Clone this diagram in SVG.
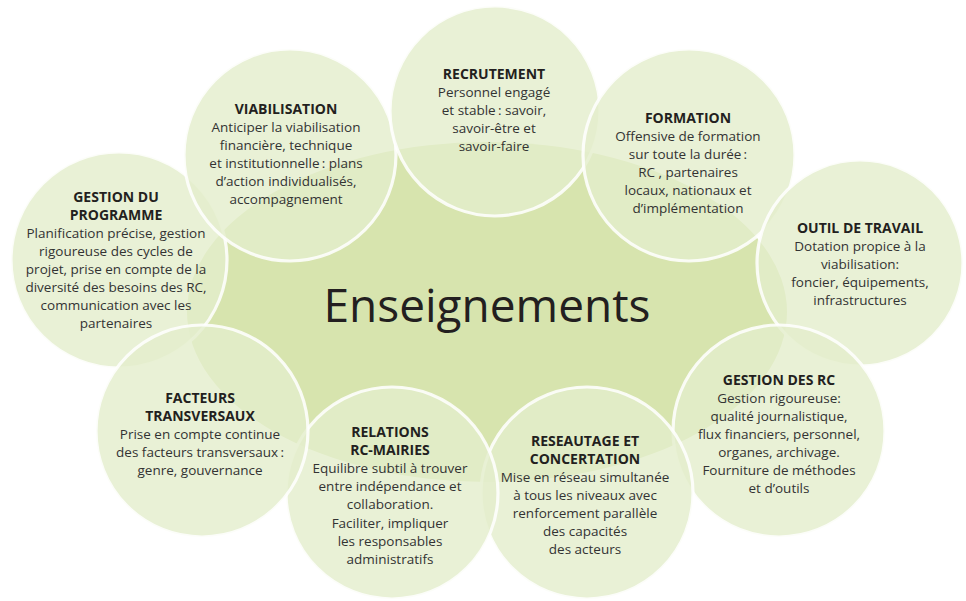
<svg xmlns="http://www.w3.org/2000/svg" width="966" height="601" viewBox="0 0 966 601">
<style>
.bub{fill:#e4edcc;fill-opacity:0.8;stroke:#ffffff;stroke-opacity:0.85;stroke-width:3.2}
text{font-family:"Open Sans","Noto Sans","DejaVu Sans",sans-serif;text-anchor:middle}
.t{font-size:14px;font-weight:bold;fill:#231f20}
.b{font-size:13.5px;fill:#333333}
.big{font-size:46px;fill:#231f20}
</style>
<rect width="966" height="601" fill="#ffffff"/>
<g id="center">
<ellipse cx="487" cy="312" rx="300" ry="170" fill="#d7e4ae"/>
</g>
<g id="gestion-programme">
<circle class="bub" cx="119" cy="260" r="108"/>
<text x="116"><tspan class="t" x="116" y="201.5">GESTION DU</tspan><tspan class="t" x="116" y="219.5">PROGRAMME</tspan><tspan class="b" x="116" y="237.5">Planification précise, gestion</tspan><tspan class="b" x="116" y="255.5">rigoureuse des cycles de</tspan><tspan class="b" x="116" y="273.5">projet, prise en compte de la</tspan><tspan class="b" x="116" y="291.5">diversité des besoins des RC,</tspan><tspan class="b" x="116" y="309.5">communication avec les</tspan><tspan class="b" x="116" y="327.5">partenaires</tspan></text>
</g>
<g id="viabilisation">
<circle class="bub" cx="290" cy="155" r="106"/>
<text><tspan class="t" x="286" y="114">VIABILISATION</tspan><tspan class="b" x="286" y="132">Anticiper la viabilisation</tspan><tspan class="b" x="286" y="150">financière, technique</tspan><tspan class="b" x="286" y="168">et institutionnelle&#8201;: plans</tspan><tspan class="b" x="286" y="186">d’action individualisés,</tspan><tspan class="b" x="286" y="204">accompagnement</tspan></text>
</g>
<g id="recrutement">
<circle class="bub" cx="495" cy="111" r="105"/>
<text><tspan class="t" x="494" y="78.5">RECRUTEMENT</tspan><tspan class="b" x="494" y="96.5">Personnel engagé</tspan><tspan class="b" x="494" y="114.5">et stable&#8201;: savoir,</tspan><tspan class="b" x="494" y="132.5">savoir-être et</tspan><tspan class="b" x="494" y="150.5">savoir-faire</tspan></text>
</g>
<g id="formation">
<circle class="bub" cx="689" cy="155" r="106"/>
<text><tspan class="t" x="688" y="123">FORMATION</tspan><tspan class="b" x="688" y="141">Offensive de formation</tspan><tspan class="b" x="688" y="159">sur toute la durée&#8201;:</tspan><tspan class="b" x="688" y="177">RC , partenaires</tspan><tspan class="b" x="688" y="195">locaux, nationaux et</tspan><tspan class="b" x="688" y="213">d’implémentation</tspan></text>
</g>
<g id="outil-travail">
<circle class="bub" cx="860" cy="263" r="103"/>
<text><tspan class="t" x="860" y="233">OUTIL DE TRAVAIL</tspan><tspan class="b" x="860" y="251">Dotation propice à la</tspan><tspan class="b" x="860" y="269">viabilisation:</tspan><tspan class="b" x="860" y="287">foncier, équipements,</tspan><tspan class="b" x="860" y="305">infrastructures</tspan></text>
</g>
<g id="gestion-rc">
<circle class="bub" cx="779" cy="431" r="106"/>
<text><tspan class="t" x="779" y="385">GESTION DES RC</tspan><tspan class="b" x="779" y="403">Gestion rigoureuse:</tspan><tspan class="b" x="779" y="421">qualité journalistique,</tspan><tspan class="b" x="779" y="439">flux financiers, personnel,</tspan><tspan class="b" x="779" y="457">organes, archivage.</tspan><tspan class="b" x="779" y="475">Fourniture de méthodes</tspan><tspan class="b" x="779" y="493">et d’outils</tspan></text>
</g>
<g id="reseautage">
<circle class="bub" cx="587" cy="493" r="106"/>
<text><tspan class="t" x="585" y="445.5">RESEAUTAGE ET</tspan><tspan class="t" x="585" y="463.5">CONCERTATION</tspan><tspan class="b" x="585" y="481.5">Mise en réseau simultanée</tspan><tspan class="b" x="585" y="499.5">à tous les niveaux avec</tspan><tspan class="b" x="585" y="517.5">renforcement parallèle</tspan><tspan class="b" x="585" y="535.5">des capacités</tspan><tspan class="b" x="585" y="553.5">des acteurs</tspan></text>
</g>
<g id="relations">
<circle class="bub" cx="392" cy="493" r="106"/>
<text><tspan class="t" x="390" y="436.5">RELATIONS</tspan><tspan class="t" x="390" y="454.5">RC-MAIRIES</tspan><tspan class="b" x="390" y="472.5">Equilibre subtil à trouver</tspan><tspan class="b" x="390" y="490.5">entre indépendance et</tspan><tspan class="b" x="390" y="508.5">collaboration.</tspan><tspan class="b" x="390" y="527.5">Faciliter, impliquer</tspan><tspan class="b" x="390" y="545.5">les responsables</tspan><tspan class="b" x="390" y="563.5">administratifs</tspan></text>
</g>
<g id="facteurs">
<circle class="bub" cx="202" cy="431" r="106"/>
<text><tspan class="t" x="200" y="402.5">FACTEURS</tspan><tspan class="t" x="200" y="420.5">TRANSVERSAUX</tspan><tspan class="b" x="200" y="438.5">Prise en compte continue</tspan><tspan class="b" x="200" y="456.5">des facteurs transversaux&#8201;:</tspan><tspan class="b" x="200" y="474.5">genre, gouvernance</tspan></text>
</g>
<g id="enseignements">
<text class="big" x="487" y="322">Enseignements</text>
</g>
</svg>
